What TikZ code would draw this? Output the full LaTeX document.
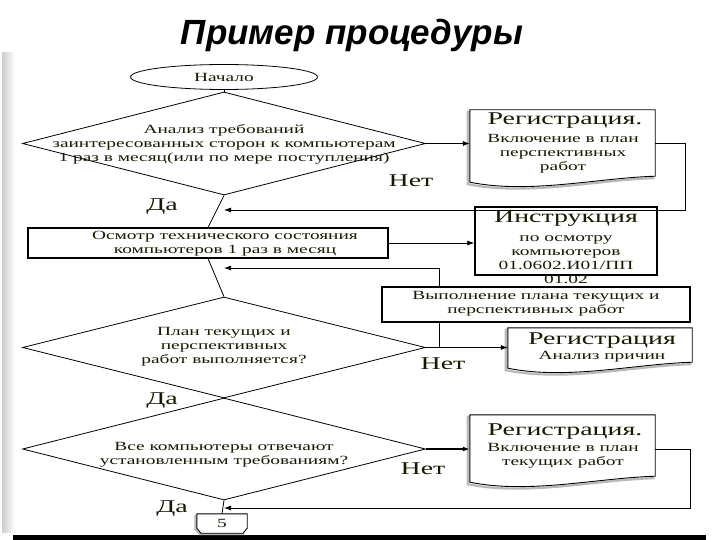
\documentclass[tikz,border=0pt]{standalone}
\usepackage{fontspec}
\setmainfont{Liberation Serif}
\newfontfamily\df[FakeStretch=1.55]{Liberation Serif}
\newfontfamily\tf{Liberation Sans}
\usetikzlibrary{shapes.geometric,arrows.meta,calc}
\definecolor{txt}{RGB}{25,25,0}
\tikzset{
  ln/.style={line width=0.8pt},
  arr/.style={line width=0.8pt,-{Latex[length=7pt,width=5pt]}},
  sm/.style={font=\df\fontsize{12.5}{14}\selectfont,text=txt,align=center,inner sep=0pt},
  lg/.style={font=\df\fontsize{18}{20}\selectfont,text=txt,align=center,inner sep=0pt},
  dia/.style={diamond,draw,line width=0.8pt,inner sep=0pt},
  box/.style={rectangle,draw,line width=1.1pt,inner sep=0pt},
  docbox/.style={rectangle,draw=none,inner sep=0pt},
  shad/.style={draw=gray!55,line width=2.2pt},
  outl/.style={draw=black,line width=0.9pt,fill=white},
}
\newcommand\docpath[2]{($(#1.north west)+#2$) -- ($(#1.north east)+#2$) -- ($(#1.south east)+(0,-6)+#2$) .. controls ($(#1.south east)+(-60,-4)+#2$) and ($(#1.south west)+(60,12)+#2$) .. ($(#1.south west)+#2$) -- cycle}
\begin{document}
\begin{tikzpicture}[x=1pt,y=-1pt]
\useasboundingbox (0,0) rectangle (720,540);
\fill[white] (0,0) rectangle (720,540);
\shade[left color=gray!40,right color=white] (2,53) rectangle (15,532);
\fill[black] (13,535) rectangle (706,540);
\node[font=\tf\bfseries\itshape\fontsize{35}{38}\selectfont] (title) at (352,35) {Пример процедуры};

% start
\node[ellipse,draw,line width=0.8pt,minimum width=187pt,minimum height=25pt,inner sep=0pt] (start) at (224,77) {};
\node[sm] (startt) at (224,77) {Начало};

% decision 1
\node[dia,minimum width=403pt,minimum height=103pt] (q1) at (224,143.5) {};
\node[sm] (q1t) at (224,144) {Анализ требований\\заинтересованных сторон к компьютерам\\1 раз в месяц(или по мере поступления)};

% document 1
\node[docbox,minimum width=185pt,minimum height=72pt] (d1) at (562.5,146) {};
\draw[shad] \docpath{d1}{(-2,2)};
\draw[outl] \docpath{d1}{(0,0)};
\node[lg] (d1a) at (565,121) {Регистрация.};
\node[sm] (d1b) at (563,154) {Включение в план\\перспективных\\работ};

% inspection
\node[box,minimum width=360pt,minimum height=30pt] (insp) at (208,243) {};
\node[sm] (inspt) at (225,244) {Осмотр технического состояния\\компьютеров 1 раз в месяц};

% instruction
\node[box,line width=1.4pt,minimum width=182pt,minimum height=68pt] (instr) at (566,241) {};
\node[lg] (instra) at (566,219) {Инструкция};
\node[sm] (instrb) at (566,260) {по осмотру\\компьютеров\\01.0602.И01/ПП\\01.02};

% plan execution
\node[box,line width=1.4pt,minimum width=308pt,minimum height=35pt] (plan) at (536,304.5) {};
\node[sm] (plant) at (536,304) {Выполнение плана текущих и\\перспективных работ};

% decision 2
\node[dia,minimum width=403pt,minimum height=101pt] (q2) at (224,347.5) {};
\node[sm] (q2t) at (224,347) {План текущих и\\перспективных\\работ выполняется?};

% document 2
\node[docbox,minimum width=184pt,minimum height=40pt] (r2) at (600,348) {};
\draw[shad] \docpath{r2}{(-2,2)};
\draw[outl] \docpath{r2}{(0,0)};
\node[lg] (r2a) at (602,341) {Регистрация};
\node[sm] (r2b) at (602,357) {Анализ причин};

% decision 3
\node[dia,minimum width=403pt,minimum height=102pt] (q3) at (224,449) {};
\node[sm] (q3t) at (224,455) {Все компьютеры отвечают\\установленным требованиям?};

% document 3
\node[docbox,minimum width=185pt,minimum height=67pt] (d3) at (562.5,448.5) {};
\draw[shad] \docpath{d3}{(-2,2)};
\draw[outl] \docpath{d3}{(0,0)};
\node[lg] (d3a) at (565,432) {Регистрация.};
\node[sm] (d3b) at (563,456) {Включение в план\\текущих работ};

% connector 5
\node[docbox,minimum width=50pt,minimum height=19pt] (end) at (222,523.5) {};
\draw[draw=gray!55,line width=2pt] ($(end.north west)+(-1.5,1)$) -- ($(end.south west)+(-1.5,-4)$) -- ($(end.south west)+(3,1)$) -- ($(end.south east)+(-3,1)$);
\draw[line width=0.9pt] (end.north west) -- (end.north east) -- ($(end.south east)+(0,-5)$) -- ($(end.south east)+(-4,0)$) -- ($(end.south west)+(4,0)$) -- ($(end.south west)+(0,-5)$) -- cycle;
\node[sm] (endt) at (222,523) {5};

% labels
\node[lg] (n1) at (411,181) {Нет};
\node[lg] (y1) at (162,207) {Да};
\node[lg] (n2) at (443,364) {Нет};
\node[lg] (y2) at (162,401) {Да};
\node[lg] (n3) at (423,469) {Нет};
\node[lg] (y3) at (172,509) {Да};

% coordinates
\coordinate (fb1) at (224,210);
\coordinate (fb2) at (224,268);
\coordinate (fb3) at (224,508);
\coordinate (pt) at ($(plan.north west)+(58,0)$);
\coordinate (pb) at ($(plan.south west)+(58,0)$);

% connectors
\draw[ln] (start.south) -- (q1.north);
\draw[arr] (q1.east) -- (q1.east -| d1.west);
\draw[arr] (q1.east -| d1.east) -- ++(30,0) |- (fb1);
\draw[ln] (q1.south) -- (insp.north);
\draw[arr] (insp.east) -- (insp.east -| instr.west);
\draw[ln] (insp.south) -- (q2.north);
\draw[arr] (pt) |- (fb2);
\draw[ln] (pb) -- (pb |- q2.east);
\draw[arr] (q2.east) -- (q2.east -| r2.west);
\draw[ln] (q2.south) -- (q3.north);
\draw[arr,line width=1.4pt] (q3.east) -- (q3.east -| d3.west);
\draw[arr] (q3.east -| d3.east) -- ++(35,0) |- (fb3);
\draw[ln] (q3.south) -- (end.north);
\end{tikzpicture}
\end{document}
